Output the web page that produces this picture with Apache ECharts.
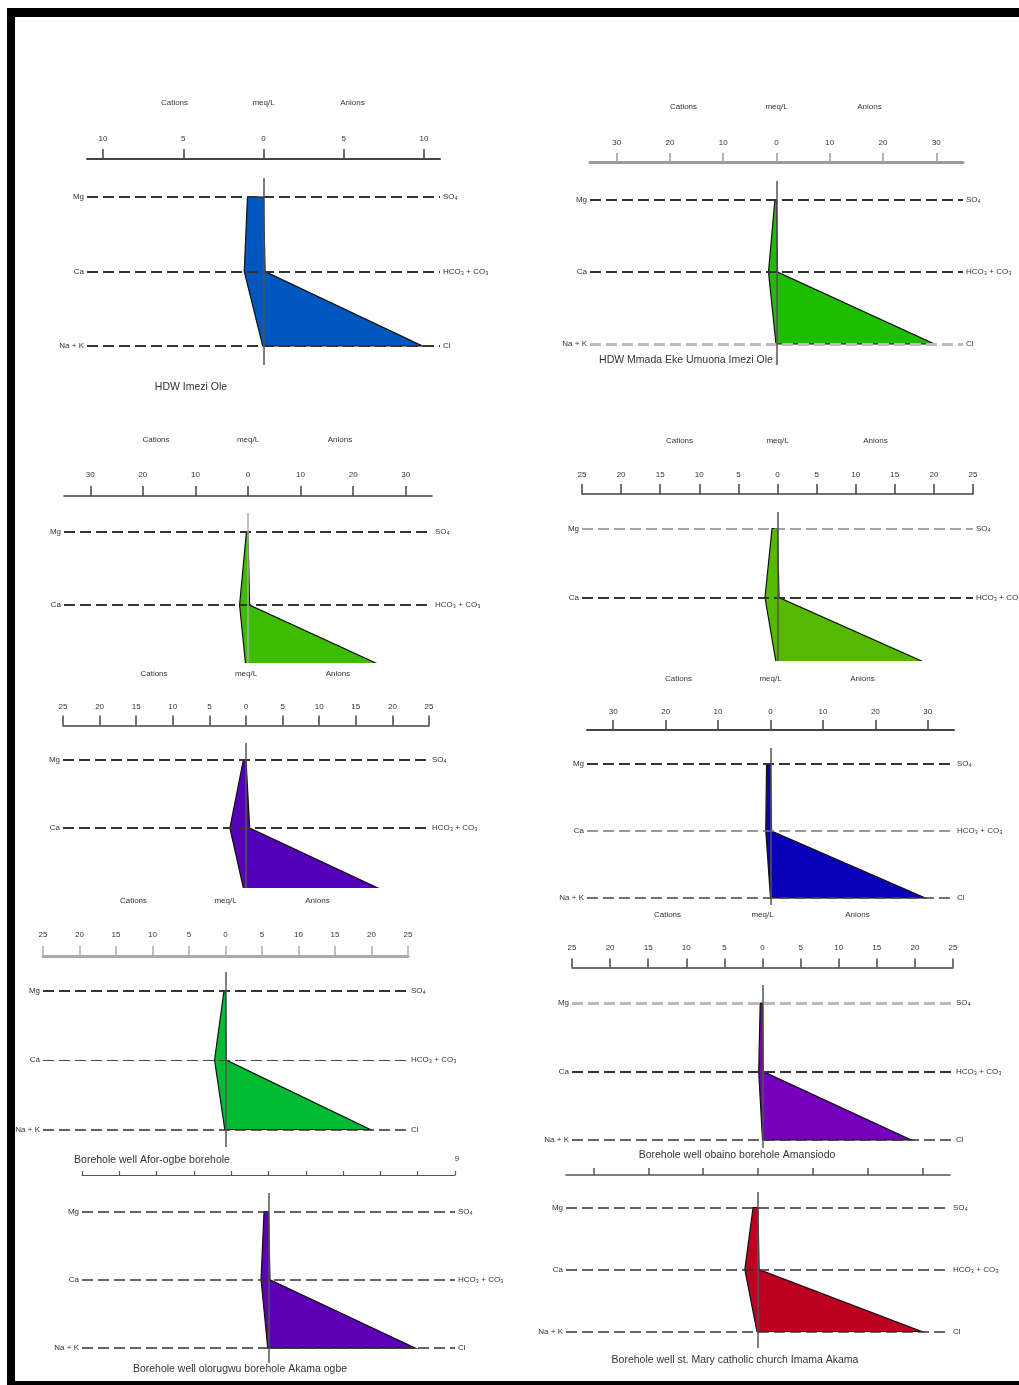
<!DOCTYPE html>
<html><head><meta charset="utf-8">
<script src="https://cdn.jsdelivr.net/npm/echarts@6/dist/echarts.min.js"></script>
<style>html,body{margin:0;padding:0;background:#fff}#c{width:1019px;height:1385px}</style>
</head><body><div id="c"></div><script>
// ---- data ----
const siteNames = ['HDW Imezi Ole', 'HDW Mmada Eke Umuona Imezi Ole', '', '', '', '',
  'Borehole well Afor-ogbe borehole', 'Borehole well obaino borehole Amansiodo',
  'Borehole well olorugwu borehole Akama ogbe', 'Borehole well st. Mary catholic church Imama Akama'];
const mgValues   = [1.0, 0.3, 0.3, 0.7, 0.35, 0.75, 0.2, 0.3, 0.6, 0.9];
const caValues   = [1.2, 1.5, 1.6, 1.6, 2.2, 0.9, 1.5, 0.5, 1.0, 2.4];
const naKValues  = [0.05, 0.1, 0.2, 0.1, 0.1, 0.0, 0.1, 0.0, 0.1, 0.2];
const so4Values  = [0, 0, 0, 0, 0, 0, 0, 0, 0, 0];
const hco3Values = [0.1, 0.2, 0.3, 0.2, 0.5, 0.2, 0.1, 0.1, 0.2, 0.2];
const clValues   = [9.9, 29.6, 30.5, 20.0, 20.5, 29.5, 19.8, 19.5, 19.7, 29.8];
const fillColors = ['#0057bd', '#1fbd00', '#3dbd00', '#55b900', '#5500b9', '#0a00b9', '#00bb33', '#7600bd', '#5f00b9', '#bd0022'];
const axisLimits = [11, 35, 35, 25, 25, 35, 25, 25, 25, 35];
const ticks10 = [-10, -5, 0, 5, 10];
const ticks30 = [-30, -20, -10, 0, 10, 20, 30];
const ticks25 = [-25, -20, -15, -10, -5, 0, 5, 10, 15, 20, 25];
const panelTicks = [ticks10, ticks30, ticks30, ticks25, ticks25, ticks30, ticks25, ticks25, ticks25, ticks30];
const cationLabels = ['Mg', 'Ca', 'Na + K'];
const anionLabels = ['SO₄', 'HCO₃ + CO₃', 'Cl'];
const headerLabels = ['Cations', 'meq/L', 'Anions'];

// ---- layout (pixels) ----
const D = '#333';
const layout = [
  {l:87, r:440, ax:159, yM:197, s:74.5, top:178, bot:365, tl:10, labY:139, axC:'#444', axW:2, headY:103, dx:89, title:[191,387], lvC:[D,D,D], lvW:[2,2,2], n:3, vC:'#555'},
  {l:590, r:963, ax:162, yM:200, s:72, top:181, bot:365, tl:9, labY:143, axC:'#9c9c9c', axW:3, headY:107, dx:93, title:[686,360], lvC:[D,D,'#bbb'], lvW:[2,2,3], n:3, vC:'#555'},
  {l:64, r:432, ax:496, yM:532, s:73, top:513, bot:663, tl:10, labY:475, axC:'#444', axW:1.5, headY:440, dx:92, title:null, lvC:[D,D,D], lvW:[2,2,2], n:2, vC:'#aaa'},
  {l:582, r:973, ax:494, yM:528.5, s:69, top:512, bot:661, tl:10, labY:475, axC:'#444', axW:1.5, headY:441, dx:98, title:null, lvC:['#888',D,D], lvW:[1.5,2,2], n:2, vC:'#555'},
  {l:63, r:429, ax:725.5, yM:759.5, s:68.5, top:743, bot:888, tl:10, labY:707, axC:'#444', axW:1.5, headY:674, dx:92, title:null, lvC:[D,D,D], lvW:[2,2,2], n:2, vC:'#555'},
  {l:587, r:954, ax:730, yM:764, s:67, top:748, bot:905, tl:10, labY:712, axC:'#444', axW:2, headY:679, dx:92, title:null, lvC:[D,'#777','#444'], lvW:[2,1.5,1.5], n:3, vC:'#555'},
  {l:43, r:408, ax:956, yM:990.5, s:69.5, top:972, bot:1147, tl:10, labY:935, axC:'#aaa', axW:3, headY:901, dx:92, title:[152,1160], lvC:[D,'#444',D], lvW:[2,1.2,1.5], n:3, vC:'#555'},
  {l:572, r:953, ax:967.5, yM:1003, s:68.5, top:985, bot:1148, tl:9, labY:948, axC:'#444', axW:1.5, headY:915, dx:95, title:[737,1155], lvC:['#bbb',D,D], lvW:[3,2,1.5], n:3, vC:'#555'},
  {l:82, r:455, ax:1175, yM:1211.5, s:68.3, top:1193, bot:1363, tl:4, labY:null, axC:'#555', axW:1.2, headY:null, dx:0, title:[240,1369], lvC:[D,D,D], lvW:[1.5,1.5,1.5], n:3, vC:'#555'},
  {l:566, r:950, ax:1175, yM:1207.5, s:62, top:1192, bot:1348, tl:7, labY:null, axC:'#555', axW:1.5, headY:null, dx:0, title:[735,1360], lvC:[D,D,D], lvW:[1.5,1.5,1.5], n:3, vC:'#555'}
];

const FONT = 'Liberation Sans, Arial, sans-serif';
const grids = [], xAxes = [], yAxes = [], series = [], graphics = [];

function renderStiff(params, api) {
  const pts = [
    api.coord([-api.value(0), 0]),
    api.coord([-api.value(1), 1]),
    api.coord([-api.value(2), 2]),
    api.coord([api.value(5), 2]),
    api.coord([api.value(4), 1]),
    api.coord([api.value(3), 0])
  ];
  const cs = params.coordSys;
  return {
    type: 'polygon',
    shape: { points: pts },
    style: { fill: api.visual('color'), stroke: '#111', lineWidth: 1.2, lineJoin: 'miter' },
    clipPath: { type: 'rect', shape: { x: cs.x - 60, y: cs.y, width: cs.width + 120, height: cs.height } }
  };
}

layout.forEach((p, i) => {
  const lim = axisLimits[i];
  grids.push({ left: p.l, top: p.top, width: p.r - p.l, height: p.bot - p.top, containLabel: false });
  xAxes.push({
    gridIndex: i, type: 'value', min: -lim, max: lim, position: 'top', offset: p.top - p.ax,
    axisLine: { show: true, onZero: false, lineStyle: { color: p.axC, width: p.axW } },
    axisTick: { show: true, length: p.tl, customValues: panelTicks[i], lineStyle: { color: p.axC, width: Math.min(p.axW, 1.5) } },
    axisLabel: { show: p.labY !== null, customValues: panelTicks[i], formatter: v => String(Math.abs(v)),
      margin: p.labY !== null ? (p.ax - p.labY - 4) : 8, fontSize: 8, color: '#333', fontFamily: FONT },
    splitLine: { show: false }
  });
  yAxes.push({ gridIndex: i, type: 'value', inverse: true, min: (p.top - p.yM) / p.s, max: (p.bot - p.yM) / p.s, show: false });

  // dashed level lines with labels
  const lvData = [];
  for (let k = 0; k < p.n; k++) {
    const ls = { type: [11, 5], color: p.lvC[k], width: p.lvW[k] };
    lvData.push({ yAxis: k, lineStyle: ls,
      label: { show: true, position: 'start', formatter: cationLabels[k], distance: 3, fontSize: 8, color: '#333', fontFamily: FONT } });
    lvData.push({ yAxis: k, lineStyle: { type: 'solid', color: 'rgba(0,0,0,0)', width: 1 },
      label: { show: true, position: 'end', formatter: anionLabels[k], distance: 3, fontSize: 8, color: '#333', fontFamily: FONT } });
  }
  series.push({
    type: 'line', xAxisIndex: i, yAxisIndex: i, data: [], z: 1, silent: true,
    markLine: { symbol: ['none', 'none'], silent: true, animation: false, data: lvData }
  });
  series.push({
    type: 'custom', xAxisIndex: i, yAxisIndex: i, z: 2, silent: true,
    itemStyle: { color: fillColors[i] },
    renderItem: renderStiff,
    data: [[mgValues[i], caValues[i], naKValues[i], so4Values[i], hco3Values[i], clValues[i]]]
  });
  series.push({
    type: 'line', xAxisIndex: i, yAxisIndex: i, data: [], z: 3, silent: true,
    markLine: { symbol: ['none', 'none'], silent: true, animation: false,
      data: [{ xAxis: 0, lineStyle: { type: 'solid', color: p.vC, width: 1.5 }, label: { show: false } }] }
  });

  const cx = (p.l + p.r) / 2;
  if (p.headY !== null) {
    [-p.dx, 0, p.dx].forEach((d, k) => {
      graphics.push({ type: 'text', x: cx + d, y: p.headY, silent: true,
        style: { text: headerLabels[k], fill: '#333', font: '8px ' + FONT, textAlign: 'center', textVerticalAlign: 'middle', align: 'center', verticalAlign: 'middle' } });
    });
  }
  if (p.title && siteNames[i]) {
    graphics.push({ type: 'text', x: p.title[0], y: p.title[1], silent: true,
      style: { text: siteNames[i], fill: '#333', font: '10.5px ' + FONT, textAlign: 'center', textVerticalAlign: 'middle', align: 'center', verticalAlign: 'middle' } });
  }
});

// stray fragment and frame
graphics.push({ type: 'text', x: 457, y: 1159, silent: true,
  style: { text: '9', fill: '#333', font: '8px ' + FONT, textAlign: 'center', textVerticalAlign: 'middle', align: 'center', verticalAlign: 'middle' } });
graphics.push({ type: 'rect', silent: true, shape: { x: 7, y: 8, width: 1012, height: 9 }, style: { fill: '#000' } });
graphics.push({ type: 'rect', silent: true, shape: { x: 7, y: 8, width: 8, height: 1377 }, style: { fill: '#000' } });
graphics.push({ type: 'rect', silent: true, shape: { x: 7, y: 1381, width: 1012, height: 4 }, style: { fill: '#000' } });

const chart = echarts.init(document.getElementById('c'), null, { renderer: 'canvas' });
chart.setOption({
  animation: false,
  backgroundColor: '#fff',
  grid: grids, xAxis: xAxes, yAxis: yAxes, series: series, graphic: { elements: graphics }
});
</script></body></html>
